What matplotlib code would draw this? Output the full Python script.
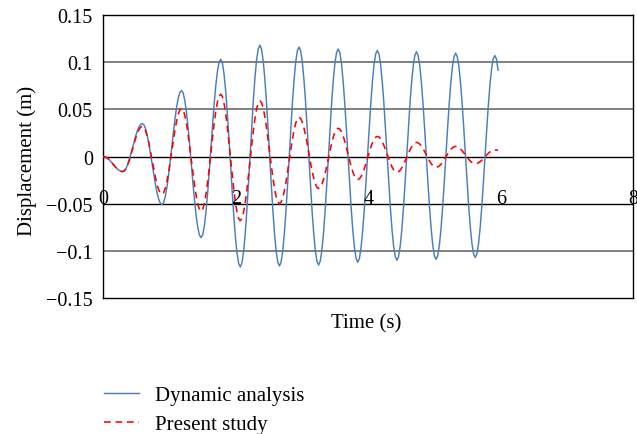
import numpy as np
import matplotlib
matplotlib.use("Agg")
import matplotlib.pyplot as plt

plt.rcParams["font.family"] = ["Liberation Serif", "DejaVu Serif"]

# sampling step of the time histories (s)
dt = 0.024625

dynamic_analysis = [
    0.0, -0.0003, -0.0011, -0.0023, -0.004, -0.0059, -0.008, -0.0101, -0.012, -0.0137, -0.0149, -0.0157,
    -0.016, -0.0151, -0.0126, -0.0085, -0.0033, 0.0029, 0.0095, 0.0161, 0.0223, 0.0275, 0.0316, 0.0341,
    0.035, 0.0335, 0.0292, 0.0224, 0.0135, 0.0031, -0.008, -0.0191, -0.0295, -0.0384, -0.0452, -0.0495,
    -0.051, -0.0489, -0.0429, -0.0333, -0.0208, -0.0062, 0.0095, 0.0252, 0.0398, 0.0523, 0.0619, 0.0679,
    0.070, 0.0674, 0.0596, 0.0472, 0.031, 0.0122, -0.008, -0.0282, -0.047, -0.0632, -0.0756, -0.0834,
    -0.086, -0.0828, -0.0733, -0.0583, -0.0388, -0.016, 0.0085, 0.033, 0.0558, 0.0753, 0.0903, 0.0998,
    0.103, 0.0993, 0.0883, 0.0708, 0.048, 0.0215, -0.007, -0.0355, -0.062, -0.0848, -0.1023, -0.1133,
    -0.117, -0.113, -0.1013, -0.0826, -0.0583, -0.0299, 0.0005, 0.0309, 0.0593, 0.0836, 0.1023, 0.114,
    0.118, 0.114, 0.1023, 0.0837, 0.0595, 0.0313, 0.001, -0.0293, -0.0575, -0.0817, -0.1003, -0.112,
    -0.116, -0.1121, -0.1005, -0.082, -0.058, -0.030, 0.0, 0.030, 0.058, 0.082, 0.1005, 0.1121,
    0.116, 0.1121, 0.1005, 0.0822, 0.0583, 0.0304, 0.0005, -0.0294, -0.0573, -0.0812, -0.0995, -0.1111,
    -0.115, -0.1111, -0.0997, -0.0815, -0.0578, -0.0301, -0.0005, 0.0291, 0.0568, 0.0805, 0.0987, 0.1101,
    0.114, 0.1102, 0.0989, 0.0809, 0.0575, 0.0302, 0.001, -0.0282, -0.0555, -0.0789, -0.0969, -0.1082,
    -0.112, -0.1082, -0.097, -0.0791, -0.0559, -0.0288, 0.0003, 0.0293, 0.0564, 0.0796, 0.0975, 0.1087,
    0.1125, 0.1087, 0.0976, 0.0799, 0.0569, 0.030, 0.0013, -0.0275, -0.0544, -0.0774, -0.0951, -0.1062,
    -0.110, -0.1062, -0.0952, -0.0777, -0.0548, -0.0281, 0.0005, 0.0291, 0.0558, 0.0787, 0.0962, 0.1072,
    0.111, 0.1073, 0.0963, 0.0788, 0.056, 0.0295, 0.001, -0.0275, -0.054, -0.0768, -0.0943, -0.1053,
    -0.109, -0.1053, -0.0944, -0.077, -0.0544, -0.028, 0.0003, 0.0285, 0.0549, 0.0775, 0.0949, 0.1058,
    0.1095, 0.1058, 0.095, 0.0778, 0.0554, 0.0293, 0.0013, -0.0268, -0.0529, -0.0753, -0.0925, -0.1033,
    -0.107, -0.1034, -0.0927, -0.0757, -0.0535, -0.0277, 0.0, 0.0277, 0.0535, 0.0757, 0.0927, 0.1034,
    0.107, 0.1034, 0.0915,
]

present_study = [
    0.0, -0.0003, -0.0011, -0.0023, -0.004, -0.0059, -0.008, -0.0101, -0.012, -0.0137, -0.0149, -0.0157,
    -0.016, -0.0152, -0.0128, -0.009, -0.004, 0.0018, 0.008, 0.0142, 0.020, 0.025, 0.0288, 0.0312,
    0.032, 0.0308, 0.0272, 0.0215, 0.014, 0.0053, -0.004, -0.0133, -0.022, -0.0295, -0.0352, -0.0388,
    -0.040, -0.0385, -0.0339, -0.0267, -0.0173, -0.0063, 0.0055, 0.0173, 0.0283, 0.0377, 0.0449, 0.0495,
    0.051, 0.0492, 0.0437, 0.035, 0.0238, 0.0106, -0.0035, -0.0176, -0.0308, -0.042, -0.0507, -0.0562,
    -0.058, -0.0559, -0.0497, -0.0399, -0.027, -0.0121, 0.004, 0.0201, 0.035, 0.0479, 0.0577, 0.0639,
    0.066, 0.0637, 0.057, 0.0464, 0.0325, 0.0163, -0.001, -0.0183, -0.0345, -0.0484, -0.059, -0.0657,
    -0.068, -0.0658, -0.0595, -0.0494, -0.0363, -0.0209, -0.0045, 0.0119, 0.0273, 0.0404, 0.0505, 0.0568,
    0.059, 0.0572, 0.0517, 0.043, 0.0318, 0.0186, 0.0045, -0.0096, -0.0228, -0.034, -0.0427, -0.0482,
    -0.050, -0.0484, -0.0439, -0.0366, -0.0271, -0.0161, -0.0042, 0.0077, 0.0187, 0.0282, 0.0355, 0.040,
    0.0416, 0.0403, 0.0365, 0.0305, 0.0227, 0.0136, 0.0038, -0.006, -0.0151, -0.0229, -0.0289, -0.0327,
    -0.034, -0.0329, -0.0297, -0.0246, -0.018, -0.0103, -0.002, 0.0063, 0.014, 0.0206, 0.0257, 0.0289,
    0.030, 0.0291, 0.0264, 0.022, 0.0164, 0.0098, 0.0028, -0.0042, -0.0108, -0.0164, -0.0208, -0.0235,
    -0.0244, -0.0236, -0.0213, -0.0177, -0.013, -0.0075, -0.0016, 0.0044, 0.0099, 0.0146, 0.0182, 0.0205,
    0.0213, 0.0207, 0.0188, 0.0158, 0.0118, 0.0073, 0.0024, -0.0026, -0.0071, -0.011, -0.0141, -0.016,
    -0.0166, -0.0161, -0.0145, -0.012, -0.0087, -0.0049, -0.0009, 0.0032, 0.007, 0.0103, 0.0128, 0.0144,
    0.0149, 0.0145, 0.0131, 0.0111, 0.0083, 0.0052, 0.0018, -0.0017, -0.0048, -0.0076, -0.0096, -0.011,
    -0.0114, -0.011, -0.0099, -0.0082, -0.0059, -0.0032, -0.0004, 0.0025, 0.0052, 0.0075, 0.0092, 0.0103,
    0.0107, 0.0104, 0.0095, 0.008, 0.0061, 0.0039, 0.0016, -0.0008, -0.003, -0.0049, -0.0064, -0.0073,
    -0.0076, -0.0074, -0.0066, -0.0055, -0.004, -0.0022, -0.0003, 0.0016, 0.0034, 0.0049, 0.006, 0.0067,
    0.007, 0.0069, 0.0067,
]

x_ticks = [0, 2, 4, 6, 8]
y_ticks = [-0.15, -0.1, -0.05, 0, 0.05, 0.1, 0.15]
y_tick_labels = ["\u22120.15", "\u22120.1", "\u22120.05", "0", "0.05", "0.1", "0.15"]

t_dyn = np.arange(len(dynamic_analysis)) * dt
t_pre = np.arange(len(present_study)) * dt

fig = plt.figure(figsize=(6.37, 4.35), dpi=100)
ax = fig.add_axes([0.1620, 0.3126, 0.8322, 0.6506])

ax.set_xlim(0, 8)
ax.set_ylim(-0.15, 0.15)

# horizontal reference lines
for yv in y_ticks[1:-1]:
    if yv in (0, -0.05):
        ax.axhline(yv, color="black", lw=1.0, zorder=1)
    else:
        ax.axhline(yv, color="#808080", lw=1.4, zorder=1)

ax.plot(t_dyn, dynamic_analysis, color="#4a7ebb", lw=1.05,
        label="Dynamic analysis", zorder=3)
ax.plot(t_pre, present_study, color="#ff0000", lw=1.15,
        linestyle=(0, (4.2, 3.0)), label="Present study", zorder=4)

for s in ax.spines.values():
    s.set_color("black")
    s.set_linewidth(1.0)

ax.set_yticks(y_ticks)
ax.set_yticklabels(y_tick_labels)
ax.set_xticks([])
ax.tick_params(axis="y", length=0, pad=7.5, labelsize=14.5)

# time labels sit along the -0.05 line
for xv in x_ticks:
    ax.text(xv, -0.0447, str(xv), ha="center", va="center", fontsize=14.5,
            zorder=5)

ax.set_ylabel("Displacement (m)", fontsize=15)
ax.yaxis.set_label_coords(-0.124, 0.4876)
ax.set_xlabel("Time (s)", fontsize=15)
ax.xaxis.set_label_coords(0.497, -0.052)

fig.legend(loc="upper left", bbox_to_anchor=(0.163, 0.112), frameon=False,
           fontsize=15, handlelength=1.69, handletextpad=0.75,
           labelspacing=0.46, borderpad=0, borderaxespad=0)

fig.savefig("out.png", dpi=100)
